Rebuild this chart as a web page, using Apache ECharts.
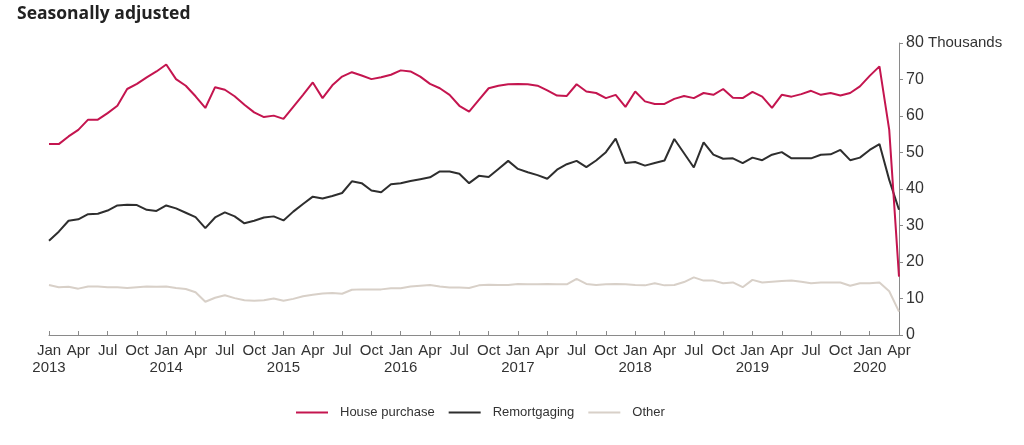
<!DOCTYPE html>
<html><head><meta charset="utf-8">
<script src="https://cdn.jsdelivr.net/npm/echarts@6/dist/echarts.min.js"></script>
<style>html,body{margin:0;padding:0;background:#fff}#c{width:1024px;height:445px}</style>
</head><body><div id="c"></div>
<script>
const months = [
'Jan 2013','Feb 2013','Mar 2013','Apr 2013','May 2013','Jun 2013','Jul 2013','Aug 2013','Sep 2013','Oct 2013','Nov 2013','Dec 2013',
'Jan 2014','Feb 2014','Mar 2014','Apr 2014','May 2014','Jun 2014','Jul 2014','Aug 2014','Sep 2014','Oct 2014','Nov 2014','Dec 2014',
'Jan 2015','Feb 2015','Mar 2015','Apr 2015','May 2015','Jun 2015','Jul 2015','Aug 2015','Sep 2015','Oct 2015','Nov 2015','Dec 2015',
'Jan 2016','Feb 2016','Mar 2016','Apr 2016','May 2016','Jun 2016','Jul 2016','Aug 2016','Sep 2016','Oct 2016','Nov 2016','Dec 2016',
'Jan 2017','Feb 2017','Mar 2017','Apr 2017','May 2017','Jun 2017','Jul 2017','Aug 2017','Sep 2017','Oct 2017','Nov 2017','Dec 2017',
'Jan 2018','Feb 2018','Mar 2018','Apr 2018','May 2018','Jun 2018','Jul 2018','Aug 2018','Sep 2018','Oct 2018','Nov 2018','Dec 2018',
'Jan 2019','Feb 2019','Mar 2019','Apr 2019','May 2019','Jun 2019','Jul 2019','Aug 2019','Sep 2019','Oct 2019','Nov 2019','Dec 2019',
'Jan 2020','Feb 2020','Mar 2020','Apr 2020'];

const housePurchase = [
52.3,52.3,54.4,56.2,59.0,59.0,60.8,62.8,67.4,68.8,70.6,72.2,
74.1,70.1,68.3,65.4,62.2,67.9,67.2,65.4,63.1,61.0,59.7,60.1,
59.2,62.5,65.8,69.2,64.9,68.4,70.8,72.0,71.1,70.1,70.6,71.3,
72.5,72.2,70.8,68.8,67.6,65.8,62.8,61.2,64.4,67.6,68.3,68.7,
68.8,68.7,68.3,67.0,65.6,65.5,68.7,66.7,66.3,64.9,65.8,62.5,
66.7,64.0,63.3,63.3,64.7,65.5,64.9,66.3,65.8,67.4,65.0,64.9,
66.6,65.3,62.2,65.8,65.3,66.0,66.9,65.8,66.3,65.6,66.3,68.1,
71.0,73.6,56.2,16.0];

const remortgaging = [
25.8,28.3,31.3,31.7,33.1,33.2,34.1,35.5,35.7,35.6,34.3,34.0,
35.5,34.7,33.5,32.3,29.3,32.2,33.6,32.5,30.6,31.3,32.2,32.5,
31.4,33.8,35.9,37.9,37.4,38.1,38.9,42.1,41.6,39.6,39.1,41.3,
41.6,42.2,42.7,43.2,44.8,44.8,44.2,41.6,43.6,43.3,45.5,47.7,
45.5,44.6,43.8,42.8,45.3,46.8,47.7,46.0,47.8,50.1,53.8,47.1,
47.4,46.4,47.1,47.8,53.7,49.8,45.9,52.8,49.4,48.3,48.4,47.1,
48.6,47.9,49.4,50.1,48.4,48.4,48.4,49.4,49.5,50.7,47.9,48.6,
50.7,52.3,42.5,34.3];

const other = [
13.7,13.1,13.2,12.7,13.3,13.3,13.1,13.1,12.9,13.1,13.3,13.2,
13.3,12.9,12.6,11.7,9.1,10.2,10.9,10.1,9.5,9.4,9.5,10.0,
9.4,9.9,10.6,11.0,11.4,11.5,11.3,12.4,12.5,12.5,12.5,12.8,
12.8,13.3,13.5,13.7,13.3,13.0,13.0,12.9,13.6,13.8,13.7,13.7,
14.0,13.9,13.9,14.0,13.9,13.9,15.4,14.0,13.7,13.9,14.0,13.9,
13.7,13.6,14.2,13.6,13.7,14.5,15.8,14.9,14.9,14.2,14.4,13.1,
15.1,14.4,14.6,14.8,14.9,14.6,14.2,14.4,14.4,14.4,13.5,14.2,
14.2,14.4,12.0,6.4];

const seriesNames = ['House purchase','Remortgaging','Other'];
const yTicks = {min:0, max:80, interval:10};
const yUnit = 'Thousands';
const title = 'Seasonally adjusted';

const colors = ['#c4154f','#2e2e2e','#d8d0c8'];
const font = '"Liberation Sans", Arial, sans-serif';
const chart = echarts.init(document.getElementById('c'));
const values = [housePurchase, remortgaging, other];

chart.setOption({
  animation:false,
  title:{text:title,left:12,top:0,textStyle:{fontFamily:'"Open Sans", sans-serif',fontWeight:'bold',fontSize:17.5,color:'#222'}},
  legend:{left:291,top:401,itemWidth:32,itemHeight:2,itemGap:14,icon:'rect',
    textStyle:{fontFamily:font,fontSize:13,color:'#333',padding:[0,0,0,7]},data:seriesNames},
  grid:{left:49,right:125,top:43,bottom:110},
  xAxis:{type:'category',data:months,boundaryGap:false,
    axisLine:{lineStyle:{color:'#8a8a8a',width:1}},
    axisTick:{inside:true,length:4,interval:2,lineStyle:{color:'#8a8a8a'}},
    axisLabel:{interval:2,margin:7,fontFamily:font,fontSize:15,color:'#333',lineHeight:17,
      formatter:v=>{const p=v.split(' ');return p[0]==='Jan'?p[0]+'\n'+p[1]:p[0];}},
    splitLine:{show:false}},
  yAxis:{type:'value',position:'right',min:yTicks.min,max:yTicks.max,interval:yTicks.interval,
    axisLine:{show:true,lineStyle:{color:'#8a8a8a',width:1}},
    axisTick:{show:true,length:4,lineStyle:{color:'#8a8a8a'}},
    axisLabel:{margin:7,fontFamily:font,fontSize:16,color:'#333',
      formatter:v=>v===yTicks.max?'{a|'+v+'}{b| '+yUnit+'}':'{a|'+v+'}',
      rich:{a:{fontFamily:font,fontSize:16,color:'#333'},b:{fontFamily:font,fontSize:15,color:'#333'}}},
    splitLine:{show:false}},
  series:seriesNames.map((n,i)=>({name:n,type:'line',data:values[i],showSymbol:false,symbol:'none',
    lineStyle:{color:colors[i],width:2},itemStyle:{color:colors[i]},z:3-i}))
});
</script></body></html>
